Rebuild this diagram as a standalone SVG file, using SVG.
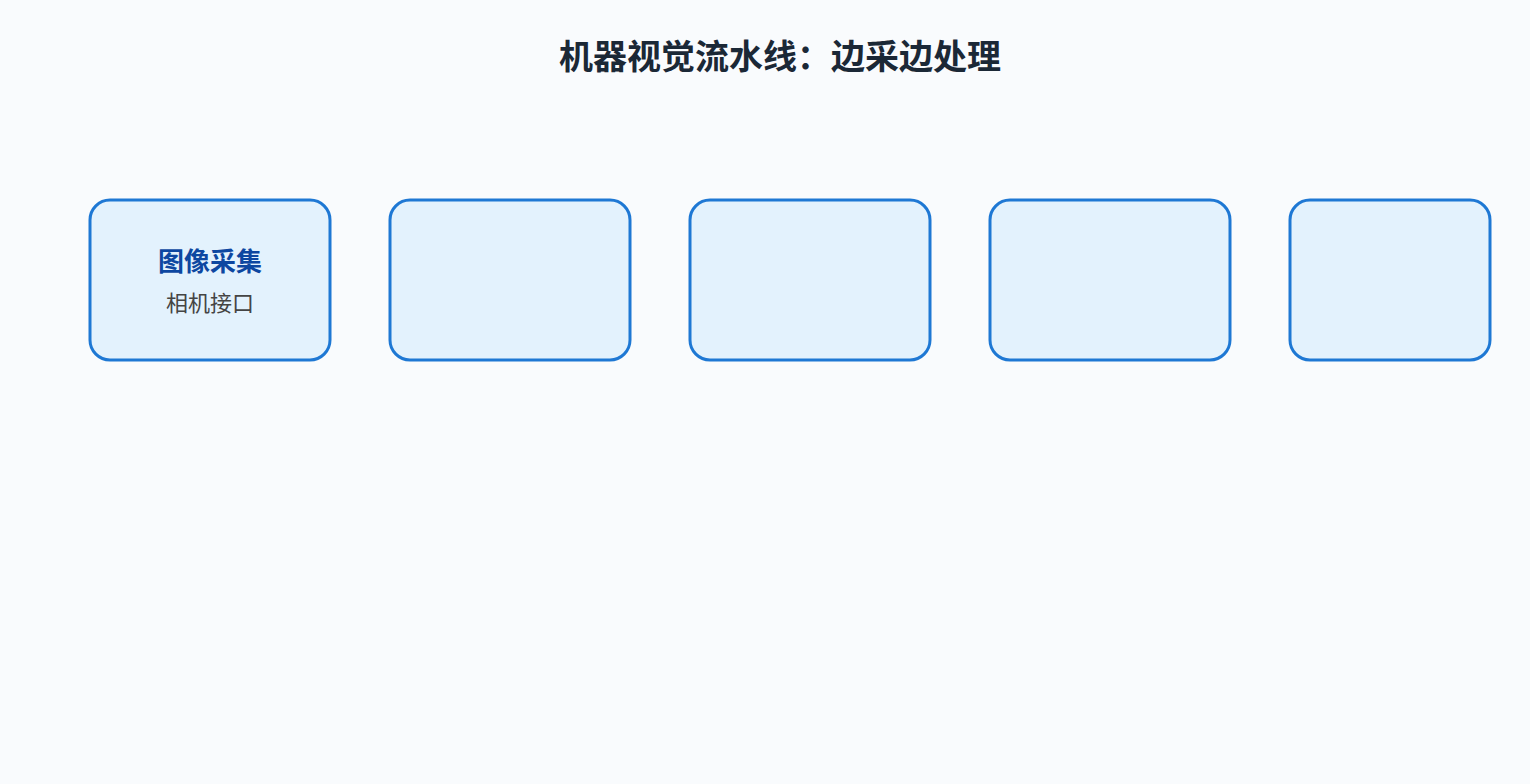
<svg xmlns="http://www.w3.org/2000/svg" width="1530" height="784" viewBox="0 0 1530 784">
<style>
.bg{fill:#f9fbfd}
.box{fill:#e3f2fd;stroke:#1e78d4;stroke-width:3}
.title{font-family:"Noto Sans CJK SC","Noto Sans",sans-serif;font-weight:700;font-size:34px;fill:#1b2836}
.h{font-family:"Noto Sans CJK SC","Noto Sans",sans-serif;font-weight:700;font-size:26px;fill:#0d47a1}
.s{font-family:"Noto Sans CJK SC","Noto Sans",sans-serif;font-size:22px;fill:#444}
</style>
<rect class="bg" x="0" y="0" width="1530" height="784"/>
<text class="title" x="780" y="69" text-anchor="middle">机器视觉流水线：边采边处理</text>
<g id="connectors"></g>
<g id="node1">
<rect class="box" x="90" y="200" width="240" height="160" rx="20"/>
<text class="h" x="210" y="271" text-anchor="middle">图像采集</text>
<text class="s" x="210" y="311" text-anchor="middle">相机接口</text>
</g>
<g id="node2"><rect class="box" x="390" y="200" width="240" height="160" rx="20"/></g>
<g id="node3"><rect class="box" x="690" y="200" width="240" height="160" rx="20"/></g>
<g id="node4"><rect class="box" x="990" y="200" width="240" height="160" rx="20"/></g>
<g id="node5"><rect class="box" x="1290" y="200" width="200" height="160" rx="20"/></g>
</svg>
